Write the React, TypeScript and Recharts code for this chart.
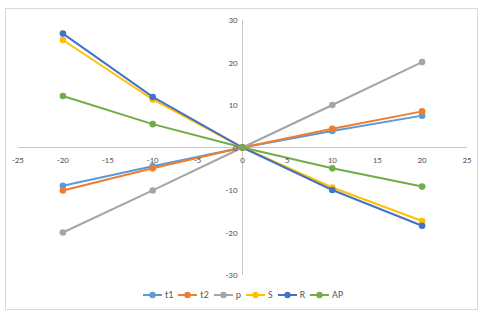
import { ReferenceLine, Scatter, ScatterChart, XAxis, YAxis } from "recharts";

const xValues = [-20, -10, 0, 10, 20];
const t1Values = [-9, -4.4, 0, 3.9, 7.5];
const t2Values = [-10.1, -4.9, 0, 4.4, 8.5];
const pValues = [-20, -10.1, 0, 10, 20.1];
const sValues = [25.3, 11.3, 0, -9.4, -17.3];
const rValues = [26.8, 11.9, 0, -10, -18.4];
const apValues = [12.1, 5.5, 0, -4.9, -9.2];

const xTicks = [-25, -20, -15, -10, -5, 0, 5, 10, 15, 20, 25];
const yTicks = [-30, -20, -10, 0, 10, 20, 30];

const seriesList = [
  { name: "t1", values: t1Values, color: "#5B9BD5" },
  { name: "t2", values: t2Values, color: "#ED7D31" },
  { name: "p", values: pValues, color: "#A5A5A5" },
  { name: "S", values: sValues, color: "#FFC000" },
  { name: "R", values: rValues, color: "#4472C4" },
  { name: "AP", values: apValues, color: "#70AD47" },
];

const W = 486;
const H = 315;
const margin = { top: 20, right: 19, bottom: 20, left: 2 };
const axisW = 16;
const axisH = 20;
const plotLeft = margin.left + axisW;
const plotTop = margin.top;
const zeroX = plotLeft + (W - plotLeft - margin.right) / 2;
const zeroY = plotTop + (H - plotTop - margin.bottom - axisH) / 2;

const textColor = "#595959";
const axisColor = "#c6c6c6";
const font = "Carlito, 'Liberation Sans', 'Open Sans', sans-serif";

const renderXTick = (props: any) => (
  <text x={props.x} y={zeroY + 15} textAnchor="middle" fontSize={9} fill={textColor} fontFamily={font}>
    {props.payload.value}
  </text>
);

const renderYTick = (props: any) => (
  <text x={zeroX - 5} y={props.y + 3} textAnchor="end" fontSize={9} fill={textColor} fontFamily={font}>
    {props.payload.value}
  </text>
);

export default function App() {
  return (
    <div style={{ position: "absolute", left: 0, top: 0, width: W, height: H, background: "#fff" }}>
      <div
        style={{
          position: "absolute",
          left: 5,
          top: 8,
          width: 471,
          height: 300,
          border: "1px solid #d9d9d9",
        }}
      />
      <div style={{ position: "absolute", left: 0, top: 0 }}>
        <ScatterChart width={W} height={H} margin={margin}>
          <XAxis
            type="number"
            dataKey="x"
            domain={[-25, 25]}
            ticks={xTicks}
            height={axisH}
            axisLine={false}
            tickLine={false}
            tick={renderXTick}
            interval={0}
            allowDataOverflow
          />
          <YAxis
            type="number"
            dataKey="y"
            domain={[-30, 30]}
            ticks={yTicks}
            width={axisW}
            axisLine={false}
            tickLine={false}
            tick={renderYTick}
            interval={0}
            allowDataOverflow
          />
          <ReferenceLine y={0} stroke={axisColor} strokeWidth={1} />
          <ReferenceLine x={0} stroke={axisColor} strokeWidth={1} />
          {seriesList.map((s) => (
            <Scatter
              key={s.name}
              name={s.name}
              data={xValues.map((x, i) => ({ x, y: s.values[i] }))}
              fill={s.color}
              line={{ stroke: s.color, strokeWidth: 2 }}
              shape={(p: any) => <circle cx={p.cx} cy={p.cy} r={3.3} fill={s.color} />}
              isAnimationActive={false}
            />
          ))}
        </ScatterChart>
      </div>
      <div
        style={{
          position: "absolute",
          left: 0,
          top: 288,
          width: W,
          display: "flex",
          justifyContent: "center",
          gap: 5,
          fontFamily: font,
          fontSize: 10,
          color: textColor,
          lineHeight: "14px",
        }}
      >
        {seriesList.map((s) => (
          <span key={s.name} style={{ display: "flex", alignItems: "center", gap: 3 }}>
            <svg width={19} height={8}>
              <line x1={0} y1={4} x2={19} y2={4} stroke={s.color} strokeWidth={2} />
              <circle cx={9.5} cy={4} r={3.2} fill={s.color} />
            </svg>
            {s.name}
          </span>
        ))}
      </div>
    </div>
  );
}
